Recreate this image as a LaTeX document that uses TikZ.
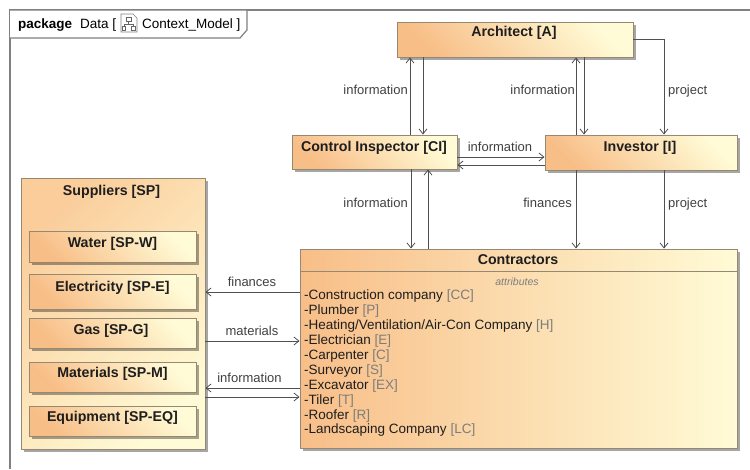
\documentclass[tikz,border=0pt]{standalone}
\usepackage{fontspec}
\setmainfont{Liberation Sans}
\usetikzlibrary{arrows.meta,shadows,calc}
\definecolor{boxL}{RGB}{248,190,136}
\definecolor{boxR}{RGB}{255,251,214}
\definecolor{supL}{RGB}{250,205,155}
\definecolor{bord}{RGB}{150,136,115}
\definecolor{lncol}{RGB}{80,80,80}
\definecolor{frm}{RGB}{128,128,128}
\definecolor{attrgrey}{RGB}{125,125,125}
\definecolor{txt}{RGB}{30,30,30}
\tikzset{
  boxbase/.style={draw=bord, line width=0.9pt, inner sep=0pt,
    drop shadow={shadow xshift=3pt, shadow yshift=-3pt, opacity=0.35, fill=black}},
  umlbox/.style={boxbase, top color=boxR, bottom color=boxL, shading angle=-45},
  widebox/.style={boxbase, left color=boxL, right color=boxR},
  supbox/.style={boxbase, top color=supL, bottom color=boxR, shading angle=45},
  ttl/.style={font=\bfseries\fontsize{14.2}{16}\selectfont, text=txt, inner sep=0pt, anchor=base},
  lbl/.style={font=\fontsize{13}{15}\selectfont, text=txt!85, inner sep=0pt},
  attr/.style={font=\fontsize{13.5}{15}\selectfont, text=txt, inner sep=0pt, anchor=base west},
  flow/.style={draw=lncol, line width=0.8pt, -{Straight Barb[length=5pt,width=8pt]}},
}
\begin{document}
\begin{tikzpicture}[x=1pt,y=-1pt]
\useasboundingbox (0,0) rectangle (750,469);
% package frame
\draw[frm, line width=1.2pt] (750,10) -- (10,10) -- (10,469);
\draw[frm, line width=1.2pt, fill=white] (10,10) -- (247,10) -- (247,30) -- (240,38) -- (10,38);
\node[font=\bfseries\fontsize{13.5}{15}\selectfont, inner sep=0pt, anchor=base west] (pk) at (18,28) {package};
\node[font=\fontsize{13.5}{15}\selectfont, inner sep=0pt, anchor=base west] (pd) at (80,28) {Data [};
\node[font=\fontsize{13.5}{15}\selectfont, inner sep=0pt, anchor=base west] (pm) at (142,28) {Context\_Model ]};
% icon
\draw[gray, line width=0.6pt, fill=white] (121,14) -- (133,14) -- (137,18) -- (137,32) -- (121,32) -- cycle;
\draw[gray!80!black, line width=0.5pt] (126,17) rectangle (131,21) (128.5,21) -- (128.5,24) (124,24) -- (133,24) (124,24) -- (124,26) (133,24) -- (133,26) (122.5,26) rectangle (125.5,30) (131.5,26) rectangle (135,30);

% main boxes
\node[umlbox, minimum width=236pt, minimum height=35pt] (A) at (515,39.5) {};
\node[umlbox, minimum width=165pt, minimum height=34pt] (CI) at (374.5,152) {};
\node[umlbox, minimum width=192pt, minimum height=35pt] (I) at (641,152.5) {};
\node[widebox, minimum width=437pt, minimum height=199pt] (C) at (518.5,348.5) {};
\draw[draw=bord, line width=0.9pt] ([yshift=-23pt]C.north west) -- ([yshift=-23pt]C.north east);
\node[supbox, minimum width=184pt, minimum height=271pt] (SP) at (113,313.5) {};
\node[umlbox, minimum width=167pt, minimum height=31pt] (W) at (112.5,246.5) {};
\node[umlbox, minimum width=167pt, minimum height=35pt] (E) at (112.5,291.5) {};
\node[umlbox, minimum width=167pt, minimum height=30pt] (G) at (112.5,333) {};
\node[umlbox, minimum width=167pt, minimum height=30pt] (M) at (112.5,377) {};
\node[umlbox, minimum width=167pt, minimum height=30pt] (EQ) at (112.5,421) {};

% titles
\node[ttl] (tA) at (514,36.8) {Architect [A]};
\node[ttl] (tCI) at (374,151.8) {Control Inspector [CI]};
\node[ttl] (tI) at (640,151.8) {Investor [I]};
\node[ttl] (tC) at (518,264.8) {Contractors};
\node[ttl] (tSP) at (111.5,195.8) {Suppliers [SP]};
\node[ttl] (tW) at (112.5,247.8) {Water [SP-W]};
\node[ttl] (tE) at (112.5,291.8) {Electricity [SP-E]};
\node[ttl] (tG) at (111,334.8) {Gas [SP-G]};
\node[ttl] (tM) at (112.5,377.8) {Materials [SP-M]};
\node[ttl] (tEQ) at (112.5,421.8) {Equipment [SP-EQ]};

% attributes
\node[font=\itshape\fontsize{10.5}{12}\selectfont, text=attrgrey, inner sep=0pt, anchor=base] (at) at (517,285.5) {attributes};
\node[attr] (a1) at (304,299.8) {-Construction company \textcolor{attrgrey}{[CC]}};
\node[attr] (a2) at (304,314.7) {-Plumber \textcolor{attrgrey}{[P]}};
\node[attr] (a3) at (304,329.6) {-Heating/Ventilation/Air-Con Company \textcolor{attrgrey}{[H]}};
\node[attr] (a4) at (304,344.5) {-Electrician \textcolor{attrgrey}{[E]}};
\node[attr] (a5) at (304,359.4) {-Carpenter \textcolor{attrgrey}{[C]}};
\node[attr] (a6) at (304,374.3) {-Surveyor \textcolor{attrgrey}{[S]}};
\node[attr] (a7) at (304,389.2) {-Excavator \textcolor{attrgrey}{[EX]}};
\node[attr] (a8) at (304,404.1) {-Tiler \textcolor{attrgrey}{[T]}};
\node[attr] (a9) at (304,419.0) {-Roofer \textcolor{attrgrey}{[R]}};
\node[attr] (a10) at (304,433.9) {-Landscaping Company \textcolor{attrgrey}{[LC]}};

% connectors Architect <-> Control Inspector
\draw[flow] ([xshift=35.5pt]CI.north) -- ([xshift=35.5pt]CI.north |- A.south);
\draw[flow] ([xshift=48.5pt]CI.north |- A.south) -- ([xshift=48.5pt]CI.north);
\node[lbl, anchor=base east] (l1) at (408,94.7) {information};
% Architect <-> Investor
\draw[flow] ([xshift=-65pt]I.north) -- ([xshift=-65pt]I.north |- A.south);
\draw[flow] ([xshift=-57pt]I.north |- A.south) -- ([xshift=-57pt]I.north);
\node[lbl, anchor=base east] (l2) at (575,94.7) {information};
% Architect -> Investor project
\draw[flow] (A.east) -| ([xshift=23pt]I.north);
\node[lbl, anchor=base west] (l3) at (668,94.7) {project};
% Control Inspector <-> Investor
\draw[flow] ([yshift=-5pt]CI.east) -- ([yshift=-5pt]CI.east -| I.west);
\draw[flow] ([yshift=-13pt]CI.east -| I.west) -- ([yshift=-13pt]CI.east);
\node[lbl, anchor=base] (l4) at (500,151.5) {information};
% Control Inspector <-> Contractors
\draw[flow] ([xshift=36.5pt]CI.south) -- ([xshift=36.5pt]CI.south |- C.north);
\draw[flow] ([xshift=53.5pt]CI.south |- C.north) -- ([xshift=53.5pt]CI.south);
\node[lbl, anchor=base east] (l5) at (408,207.7) {information};
% Investor -> Contractors
\draw[flow] ([xshift=-65pt]I.south) -- ([xshift=-65pt]I.south |- C.north);
\node[lbl, anchor=base east] (l6) at (572,207.7) {finances};
\draw[flow] ([xshift=23pt]I.south) -- ([xshift=23pt]I.south |- C.north);
\node[lbl, anchor=base west] (l7) at (668,207.7) {project};
% Contractors <-> Suppliers
\draw[flow] ([yshift=56.5pt]C.west) -- ([yshift=56.5pt]C.west -| SP.east);
\node[lbl, anchor=base] (l8) at (252,286.7) {finances};
\draw[flow] ([yshift=-27.5pt]SP.east) -- ([yshift=-27.5pt]SP.east -| C.west);
\node[lbl, anchor=base] (l9) at (252,335.7) {materials};
\draw[flow] ([yshift=-39.5pt]C.west) -- ([yshift=-39.5pt]C.west -| SP.east);
\node[lbl, anchor=base] (l10) at (249.5,382.7) {information};
\draw[flow] ([yshift=-83.5pt]SP.east) -- ([yshift=-83.5pt]SP.east -| C.west);
\end{tikzpicture}
\end{document}
